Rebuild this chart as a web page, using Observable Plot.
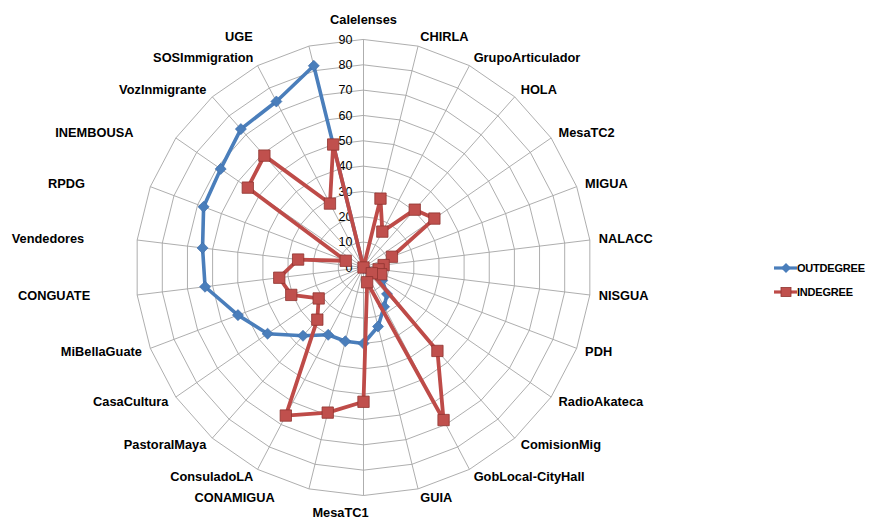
<!DOCTYPE html>
<html><head><meta charset="utf-8">
<script src="https://cdn.jsdelivr.net/npm/d3@7"></script>
<script src="https://cdn.jsdelivr.net/npm/@observablehq/plot@0.6"></script>
<style>
body{margin:0;background:#fff;}
#chart{position:relative;width:870px;height:519px;overflow:hidden;}
#legend{position:absolute;left:774px;top:256px;font:bold 11px "Liberation Sans",Arial,sans-serif;color:#000;letter-spacing:-0.2px;}
#legend .row{display:flex;align-items:center;height:24px;}
#legend svg{margin-right:0px;}
</style>
</head><body>
<div id="chart"></div>
<script>
const categories = ["Calelenses","CHIRLA","GrupoArticulador","HOLA","MesaTC2","MIGUA","NALACC","NISGUA","PDH","RadioAkateca","ComisionMig","GobLocal-CityHall","GUIA","MesaTC1","CONAMIGUA","ConsuladoLA","PastoralMaya","CasaCultura","MiBellaGuate","CONGUATE","Vendedores","RPDG","INEMBOUSA","VozInmigrante","SOSImmigration","UGE"];
const outdegree = [0,0,0,0,0,0,0,0,1,9,14,17.5,24,30,30,30,36,46,53,63,64,67.5,68.5,73,74,82];
const indegree = [0,28,16,30.5,34,12,8,6,7.5,4,44,68,6,53,59,66,27.5,21.5,30.5,33.5,26,7.5,55.5,59,28.5,50];
const tickValues = [0,10,20,30,40,50,60,70,80,90];
const seriesNames = ["OUTDEGREE","INDEGREE"];
const seriesColors = ["#4A7EBB","#BE4B48"];

// layout (pixels)
const cx = 363, cy = 267, R90 = 228;
const k = R90 / 90;             // px per unit
const labelR = 237 / k;          // label radius in units
const labelNudge = {"UGE": -54, "INEMBOUSA": -35, "RPDG": -57, "Vendedores": -44, "CONGUATE": -38, "CONAMIGUA": -32, "MesaTC1": -23};

const n = categories.length;
const ang = i => i * 2 * Math.PI / n;
const px = (v, i) => v * Math.sin(ang(i));
const py = (v, i) => v * Math.cos(ang(i));

const rows = categories.map((c, i) => ({c, i, out: outdegree[i], inn: indegree[i]}));
const ringPts = tickValues.filter(t => t > 0).flatMap(t => categories.map((c, i) => ({t, i})));
const labels = categories.map((c, i) => ({c, i, s: Math.sin(ang(i))}));

const font = '"Liberation Sans", Arial, sans-serif';
const labelX = d => px(labelR, d.i) + (labelNudge[d.c] || 0) / k;
const labelY = d => py(labelR, d.i);
const lblStyle = {text: "c", fontSize: 12.8, fontWeight: "bold", fill: "#000"};

const chart = Plot.plot({
  width: 870, height: 519,
  margin: 0,
  style: {fontFamily: font, background: "#fff"},
  x: {domain: [-90, 90], range: [cx - R90, cx + R90], axis: null},
  y: {domain: [-90, 90], range: [cy + R90, cy - R90], axis: null},
  marks: [
    Plot.line(ringPts, {x: d => px(d.t, d.i), y: d => py(d.t, d.i), z: "t", curve: "linear-closed", stroke: "#a5a5a5", strokeWidth: 0.9}),
    Plot.link(rows, {x1: 0, y1: 0, x2: d => px(90, d.i), y2: d => py(90, d.i), stroke: "#a5a5a5", strokeWidth: 0.9}),
    Plot.text(tickValues, {x: 0, y: d => d, text: d => String(d), textAnchor: "end", dx: -11, fontSize: 12.5, fill: "#000"}),
    Plot.line(rows, {x: d => px(d.out, d.i), y: d => py(d.out, d.i), curve: "linear-closed", stroke: seriesColors[0], strokeWidth: 3.6, strokeLinejoin: "round"}),
    Plot.dot(rows, {x: d => px(d.out, d.i), y: d => py(d.out, d.i), symbol: "diamond2", r: 5, fill: seriesColors[0], stroke: "#3a6aa6", strokeWidth: 0.6}),
    Plot.line(rows, {x: d => px(d.inn, d.i), y: d => py(d.inn, d.i), curve: "linear-closed", stroke: seriesColors[1], strokeWidth: 3.8, strokeLinejoin: "round"}),
    Plot.dot(rows, {x: d => px(d.inn, d.i), y: d => py(d.inn, d.i), symbol: "square", r: 6.4, fill: "#C0504D", stroke: "#8f3330", strokeWidth: 0.8}),
    Plot.text(labels.filter(d => d.s > 0.01), {x: labelX, y: labelY, textAnchor: "start", ...lblStyle}),
    Plot.text(labels.filter(d => d.s < -0.01), {x: labelX, y: labelY, textAnchor: "end", ...lblStyle}),
    Plot.text(labels.filter(d => Math.abs(d.s) <= 0.01 && d.i === 0), {x: labelX, y: labelY, textAnchor: "middle", lineAnchor: "bottom", dy: -7, ...lblStyle}),
    Plot.text(labels.filter(d => Math.abs(d.s) <= 0.01 && d.i !== 0), {x: labelX, y: labelY, textAnchor: "middle", lineAnchor: "top", dy: 3, ...lblStyle})
  ]
});
const host = document.getElementById("chart");
host.appendChild(chart);

// legend
const legend = document.createElement("div");
legend.id = "legend";
seriesNames.forEach((name, j) => {
  const row = document.createElement("div");
  row.className = "row";
  const marker = j === 0
    ? `<polygon points="12,1 17,6 12,11 7,6" fill="${seriesColors[0]}"/>`
    : `<rect x="7" y="1.5" width="10" height="9" fill="#C0504D" stroke="#8f3330" stroke-width="0.8"/>`;
  row.innerHTML = `<svg width="23" height="12"><line x1="0" y1="6" x2="23" y2="6" stroke="${seriesColors[j]}" stroke-width="3.2"/>${marker}</svg><span>${name}</span>`;
  legend.appendChild(row);
});
host.appendChild(legend);
</script>
</body></html>
